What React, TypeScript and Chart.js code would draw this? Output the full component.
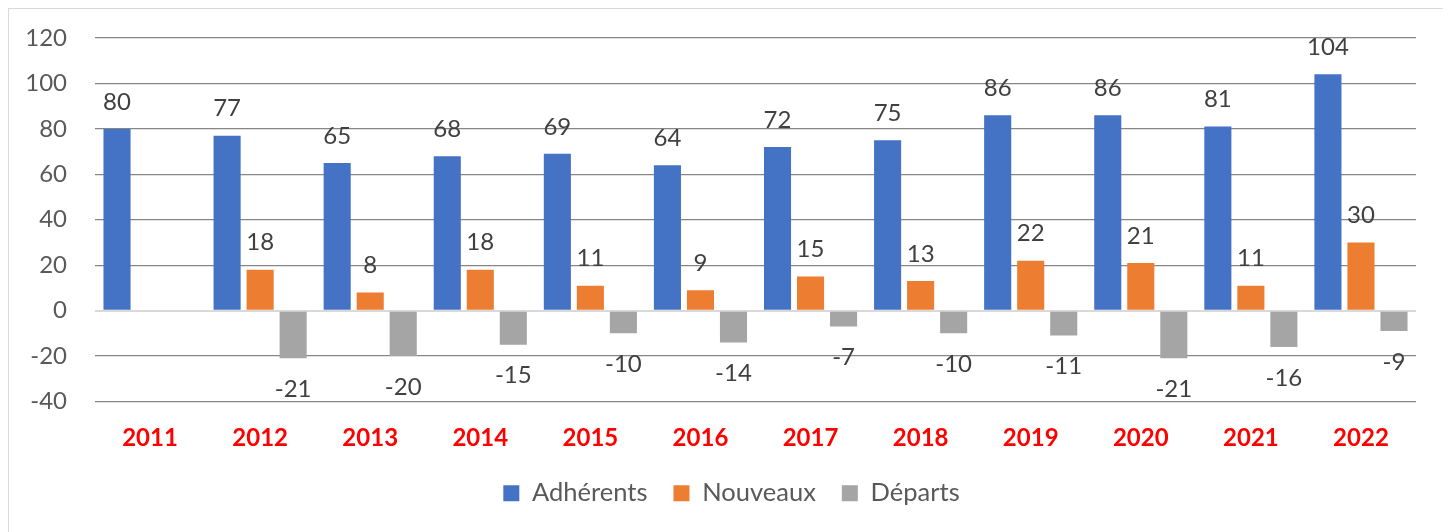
import React, { useEffect, useRef } from "react";
import { Chart, registerables } from "chart.js";

Chart.register(...registerables);

const years = ["2011", "2012", "2013", "2014", "2015", "2016", "2017", "2018", "2019", "2020", "2021", "2022"];
const adherents = [80, 77, 65, 68, 69, 64, 72, 75, 86, 86, 81, 104];
const nouveaux = [null, 18, 8, 18, 11, 9, 15, 13, 22, 21, 11, 30];
const departs = [null, -21, -20, -15, -10, -14, -7, -10, -11, -21, -16, -9];
const yMin = -40;
const yMax = 120;
const yStep = 20;

const FONT = "Lato, 'Open Sans', sans-serif";

const valueLabels = {
  id: "valueLabels",
  afterDatasetsDraw(chart: any) {
    const ctx = chart.ctx;
    ctx.save();
    ctx.font = `24px ${FONT}`;
    ctx.fillStyle = "#404040";
    ctx.textAlign = "center";
    ctx.textBaseline = "middle";
    chart.data.datasets.forEach((ds: any, i: number) => {
      const meta = chart.getDatasetMeta(i);
      meta.data.forEach((el: any, j: number) => {
        const v = ds.data[j];
        if (v === null || v === undefined) return;
        const { x, y } = el.getProps(["x", "y"], true);
        ctx.fillText(String(v), x, v >= 0 ? y - 27 : y + 31);
      });
    });
    ctx.restore();
  },
};

// centre the legend on the whole canvas rather than on the padded area
const legendCentre = {
  id: "legendCentre",
  afterLayout(chart: any) {
    const lg = chart.legend;
    if (!lg) return;
    lg.left += 11;
    lg.right += 27;
  },
};

export default function App() {
  const ref = useRef<HTMLCanvasElement | null>(null);
  useEffect(() => {
    if (!ref.current) return;
    const chart = new Chart(ref.current, {
      type: "bar",
      data: {
        labels: years,
        datasets: [
          { label: "Adhérents", data: adherents, backgroundColor: "#4472C4", borderWidth: 0 },
          { label: "Nouveaux", data: nouveaux as any, backgroundColor: "#ED7D31", borderWidth: 0 },
          { label: "Départs", data: departs as any, backgroundColor: "#A5A5A5", borderWidth: 0 },
        ],
      },
      options: {
        animation: false,
        responsive: true,
        maintainAspectRatio: false,
        datasets: { bar: { categoryPercentage: 0.9, barPercentage: 0.82 } } as any,
        layout: { padding: { left: 0, right: 27, top: 29, bottom: 31 } },
        plugins: {
          tooltip: { enabled: false },
          legend: {
            position: "bottom",
            labels: {
              boxWidth: 16,
              boxHeight: 16,
              padding: 26,
              color: "#595959",
              font: { family: FONT, size: 25.5 },
            },
          },
        },
        scales: {
          x: {
            grid: { display: false, drawTicks: false },
            border: { display: false },
            ticks: {
              color: "#FF0000",
              padding: 22,
              font: { family: FONT, size: 24, weight: "bold" },
            },
            afterFit: (s: any) => {
              s.height = 53;
            },
          },
          y: {
            min: yMin,
            max: yMax,
            grid: {
              drawTicks: false,
              color: (c: any) => (c.tick && c.tick.value === 0 ? "#D9D9D9" : "#868686"),
              lineWidth: (c: any) => (c.tick && c.tick.value === 0 ? 2 : 1.3),
            },
            border: { display: false },
            ticks: {
              stepSize: yStep,
              color: "#595959",
              padding: 28,
              font: { family: FONT, size: 24 },
            },
            afterFit: (s: any) => {
              s.width = 86;
              s.paddingTop = 10;
              s.paddingBottom = 10;
            },
          },
        },
      },
      plugins: [valueLabels, legendCentre],
    });
    return () => chart.destroy();
  }, []);

  return (
    <div style={{ width: 1436, border: "1px solid #D9D9D9", boxSizing: "border-box", background: "#fff" }}>
      <div style={{ position: "relative", width: 1434, height: 538 }}>
        <canvas ref={ref} />
      </div>
    </div>
  );
}
